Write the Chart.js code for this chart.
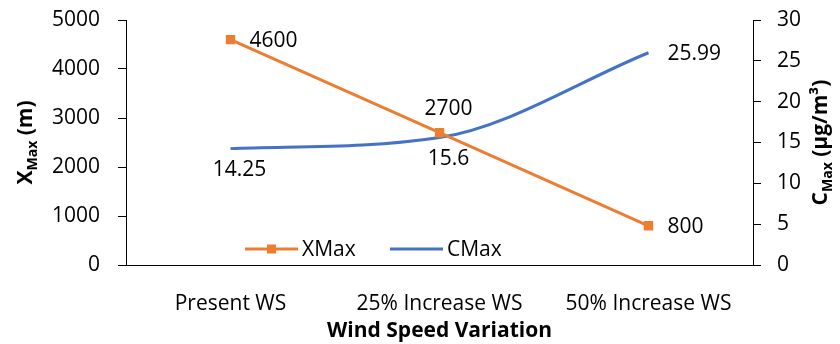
<!DOCTYPE html>
<html>
<head>
<meta charset="utf-8">
<script src="https://cdn.jsdelivr.net/npm/chart.js@4"></script>
<style>
  html, body { margin: 0; padding: 0; background: #fff; }
  #wrap { width: 840px; height: 344px; }
</style>
</head>
<body>
<div id="wrap"><canvas id="chart"></canvas></div>
<script>
let categories = ["Present WS", "25% Increase WS", "50% Increase WS"];
let xMax = [4600, 2700, 800];
let cMax = [14.25, 15.6, 25.99];
let seriesNames = ["XMax", "CMax"];

let orange = "#ED7D31";
let blue = "#4472C4";
let font = "'Open Sans', sans-serif";
let fs = 21;

// where each value label sits relative to its point
let labelPlace = [
  ["right", "above", "right"],
  ["below", "below", "right"],
];

function subTitle(ctx, x, y, rot, main, sub, rest) {
  ctx.save();
  ctx.translate(x, y);
  ctx.rotate(rot);
  ctx.fillStyle = "#000";
  ctx.textBaseline = "alphabetic";
  let big = "bold " + fs + "px " + font;
  let small = "bold 14px " + font;
  ctx.font = big;
  let w1 = ctx.measureText(main).width;
  let w3 = ctx.measureText(rest).width;
  ctx.font = small;
  let w2 = ctx.measureText(sub).width;
  let start = -(w1 + w2 + w3) / 2;
  ctx.font = big;
  ctx.textAlign = "left";
  ctx.fillText(main, start, 7);
  ctx.font = small;
  ctx.fillText(sub, start + w1, 12);
  ctx.font = big;
  ctx.fillText(rest, start + w1 + w2, 7);
  ctx.restore();
}

const extras = {
  id: "extras",
  afterDatasetsDraw(chart) {
    let ctx = chart.ctx;
    ctx.save();
    ctx.font = fs + "px " + font;
    ctx.fillStyle = "#000";
    chart.data.datasets.forEach((ds, d) => {
      let meta = chart.getDatasetMeta(d);
      meta.data.forEach((pt, i) => {
        let txt = String(ds.data[i]);
        let p = labelPlace[d][i];
        ctx.textBaseline = "middle";
        if (p == "right") {
          ctx.textAlign = "left";
          ctx.fillText(txt, pt.x + 19, pt.y + 1);
        } else if (p == "above") {
          ctx.textAlign = "center";
          ctx.fillText(txt, pt.x + 9, pt.y - 24);
        } else {
          ctx.textAlign = "center";
          ctx.fillText(txt, pt.x + 9, pt.y + 21);
        }
      });
    });

    // legend inside the plot
    let ly = 249;
    let items = [
      { x: 245, color: orange, marker: true, text: seriesNames[0] },
      { x: 390, color: blue, marker: false, text: seriesNames[1] },
    ];
    items.forEach((it) => {
      ctx.strokeStyle = it.color;
      ctx.lineWidth = 3;
      ctx.beginPath();
      ctx.moveTo(it.x, ly);
      ctx.lineTo(it.x + 53, ly);
      ctx.stroke();
      if (it.marker) {
        ctx.fillStyle = it.color;
        ctx.fillRect(it.x + 22, ly - 4.5, 9, 9);
      }
      ctx.fillStyle = "#000";
      ctx.textAlign = "left";
      ctx.textBaseline = "middle";
      ctx.fillText(it.text, it.x + 57, ly + 1);
    });
    ctx.restore();

    // axis titles with subscripts
    let a = chart.chartArea;
    let mid = (a.top + a.bottom) / 2;
    subTitle(ctx, 25, mid, -Math.PI / 2, "X", "Max", " (m)");
    subTitle(ctx, 820, mid, -Math.PI / 2, "C", "Max", " (\u00b5g/m\u00b3)");
  },
};

function fitVertical(width) {
  return (s) => {
    s.width = width;
    s.paddingTop = 0;
    s.paddingBottom = 0;
  };
}

new Chart(document.getElementById("chart"), {
  type: "line",
  plugins: [extras],
  data: {
    labels: categories,
    datasets: [
      {
        label: seriesNames[0],
        data: xMax,
        borderColor: orange,
        backgroundColor: orange,
        borderWidth: 3,
        pointStyle: "rect",
        pointRadius: 4.5,
        yAxisID: "y",
      },
      {
        label: seriesNames[1],
        data: cMax,
        borderColor: blue,
        backgroundColor: blue,
        borderWidth: 3,
        pointRadius: 0,
        cubicInterpolationMode: "monotone",
        yAxisID: "y1",
      },
    ],
  },
  options: {
    responsive: true,
    maintainAspectRatio: false,
    animation: false,
    layout: { padding: { top: 20 } },
    plugins: {
      legend: { display: false },
      tooltip: { enabled: false },
    },
    scales: {
      x: {
        offset: true,
        grid: { display: false },
        border: { display: true, color: "#000", width: 1 },
        ticks: { color: "#000", font: { family: font, size: fs }, padding: 18, maxRotation: 0 },
        title: {
          display: true,
          text: "Wind Speed Variation",
          color: "#000",
          font: { family: font, size: fs, weight: "bold" },
          padding: { top: 0, bottom: 0 },
        },
        afterFit: (s) => { s.height = 79; s.paddingLeft = 0; s.paddingRight = 0; },
      },
      y: {
        position: "left",
        min: 0,
        max: 5000,
        ticks: {
          stepSize: 1000,
          color: "#000",
          font: { family: font, size: fs },
          padding: 18,
          callback: (v) => String(v),
        },
        grid: { drawOnChartArea: false, drawTicks: true, tickLength: 8, color: "#000" },
        border: { display: true, color: "#000", width: 1 },
        afterFit: fitVertical(126),
      },
      y1: {
        position: "right",
        min: 0,
        max: 30,
        ticks: { stepSize: 5, color: "#000", font: { family: font, size: fs }, padding: 16 },
        grid: { drawOnChartArea: false, drawTicks: true, tickLength: 8, color: "#000" },
        border: { display: true, color: "#000", width: 1 },
        afterFit: fitVertical(87),
      },
    },
  },
});
</script>
</body>
</html>
